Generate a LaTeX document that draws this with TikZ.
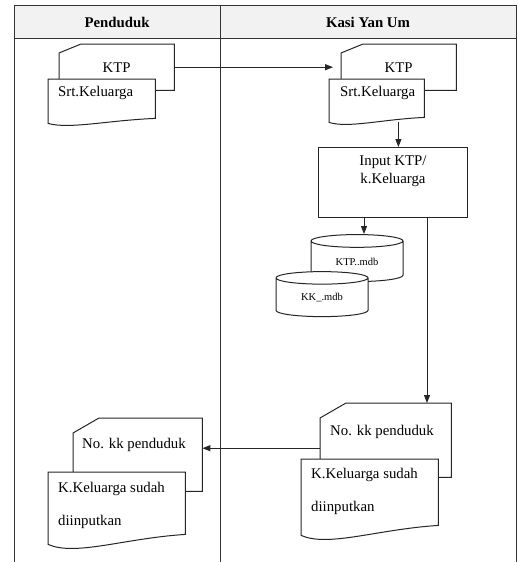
\documentclass[tikz,border=0pt]{standalone}
\usepackage{fontspec}
\setmainfont{Liberation Serif}
\usetikzlibrary{positioning,calc,shapes.geometric,arrows.meta}

% card with a cut corner: node, drop, run
\newcommand{\cardshape}[3]{\draw[outline] ([yshift=-#2]#1.north west) -- ([xshift=#3]#1.north west) -- (#1.north east) -- (#1.south east) -- (#1.south west) -- cycle;}
% document with a wavy bottom: node, drop of the left corner
\newcommand{\docshape}[2]{\draw[outline] (#1.north west) -- (#1.north east) -- (#1.south east) .. controls ($(#1.south west)!0.55!(#1.south east)+(0,0.4*#2)$) and ($(#1.south west)!0.2!(#1.south east)+(0,2.2*#2)$) .. ($(#1.south west)+(0,#2)$) -- cycle;}

\begin{document}
\begin{tikzpicture}[x=1pt,y=-1pt,font=\fontsize{14.8}{18}\selectfont,
	lane/.style={draw=black!80,line width=1pt},
	outline/.style={draw=black!85,line width=1pt,fill=white},
	box/.style={anchor=north west,inner sep=0pt},
	txt/.style={inner sep=0pt},
	db/.style={cylinder,shape border rotate=90,aspect=0.3,draw=black!85,line width=1pt,fill=white,minimum width=92pt,minimum height=47pt,inner sep=0pt,font=\fontsize{10.5}{12}\selectfont},
	arr/.style={draw=black!85,line width=1pt,-{Triangle[length=8pt,width=6pt]}}]
	\useasboundingbox (0,0) rectangle (518,562);
	% lanes
	\fill[gray!10] (14,5) rectangle (516,38);
	\draw[lane] (14,562) -- (14,5) -- (516,5) -- (516,562);
	\draw[lane] (14,38) -- (516,38);
	\draw[lane] (220,5) -- (220,562);
	\node[txt] (hdrP) at (117,22) {\textbf{Penduduk}};
	\node[txt] (hdrK) at (368,22) {\textbf{Kasi Yan Um}};

	% shapes
	\node[box,minimum width=115pt,minimum height=46pt] (ktpP) at (59,44) {};
	\node[box,minimum width=107pt,minimum height=39pt] (srtP) at (48,79) {};
	\node[box,minimum width=115pt,minimum height=46pt] (ktpK) at (341,44) {};
	\node[box,minimum width=95pt,minimum height=38pt] (srtK) at (329,79) {};
	\node[box,draw=black!85,line width=1pt,minimum width=149pt,minimum height=70pt] (input) at (318,147) {};
	\node[box,minimum width=131pt,minimum height=74pt] (kkK) at (320,403) {};
	\node[box,minimum width=137pt,minimum height=66pt] (kkinK) at (301,459) {};
	\node[box,minimum width=129pt,minimum height=73pt] (kkP) at (73,418) {};
	\node[box,minimum width=137pt,minimum height=62pt] (kkinP) at (48,472) {};

	\cardshape{ktpP}{9pt}{22pt}
	\docshape{srtP}{5}
	\cardshape{ktpK}{9pt}{22pt}
	\docshape{srtK}{5}
	\cardshape{kkK}{15pt}{26pt}
	\docshape{kkinK}{10}
	\cardshape{kkP}{15pt}{26pt}
	\docshape{kkinP}{10}

	\node[db] (ktpdb) at (357,261.5) {KTP..mdb};
	\node[db,minimum height=45pt] (kkdb) at (322,297.5) {KK\_.mdb};

	% texts
	\node[txt] (ktpPt) at (ktpP.center) {KTP};
	\node[txt,below right=7pt and 10pt of srtP.north west] (srtPt) {Srt.Keluarga};
	\node[txt] (ktpKt) at (ktpK.center) {KTP};
	\node[txt,below right=7pt and 11pt of srtK.north west] (srtKt) {Srt.Keluarga};
	\node[txt,align=center,below=9pt of input.north] (inputt) {Input KTP/\\k.Keluarga};
	\node[txt,below right=22pt and 10pt of kkK.north west] (kkKt) {No. kk penduduk};
	\node[txt,align=left,below right=9pt and 10pt of kkinK.north west] (kkinKt) {K.Keluarga sudah\\[15pt]diinputkan};
	\node[txt,below right=20pt and 9pt of kkP.north west] (kkPt) {No. kk penduduk};
	\node[txt,align=left,below right=10pt and 10pt of kkinP.north west] (kkinPt) {K.Keluarga sudah\\[15pt]diinputkan};

	% flow
	\path (ktpP.east) edge[arr] ([xshift=-8pt]ktpK.west);
	\path ([xshift=-26pt,yshift=-5pt]srtK.south east) edge[arr] ([xshift=-26pt]srtK.south east |- input.north);
	\path ([xshift=7pt]ktpdb.north |- input.south) edge[arr] ([xshift=7pt]ktpdb.north);
	\path ([xshift=34pt]input.south) edge[arr] ([xshift=34pt]input.south |- kkK.north);
	\path ([yshift=-8pt]kkK.west) edge[arr] ([yshift=-8pt]kkK.west -| kkP.east);
\end{tikzpicture}
\end{document}
